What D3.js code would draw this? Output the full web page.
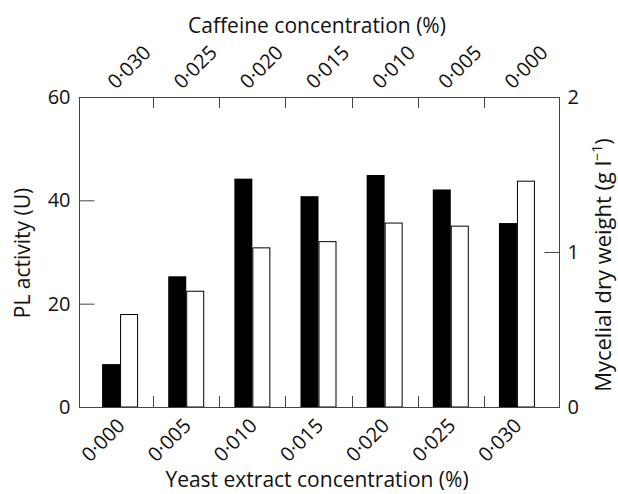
<!DOCTYPE html>
<html>
<head>
<meta charset="utf-8">
<script src="https://cdnjs.cloudflare.com/ajax/libs/d3/7.8.5/d3.min.js"></script>
<style>
body{margin:0;background:#fff;}
text{font-family:"Open Sans",sans-serif;fill:#111;}
</style>
</head>
<body>
<div id="chart"></div>
<script>
// data
var yeast = ["0·000","0·005","0·010","0·015","0·020","0·025","0·030"];
var caffeine = ["0·030","0·025","0·020","0·015","0·010","0·005","0·000"];
var plActivity = [8.3, 25.3, 44.2, 40.8, 44.9, 42.1, 35.6];
var dryWeight = [0.60, 0.75, 1.03, 1.07, 1.19, 1.17, 1.46];
var leftTicks = [0, 20, 40, 60];
var rightTicks = [0, 1, 2];

var W = 618, H = 494;
var pLeft = 79, pRight = 560, pTop = 97, pBottom = 407;

var svg = d3.select("#chart")
	.append("svg")
	.attr("width", W)
	.attr("height", H);

var x = d3.scaleBand()
	.domain(d3.range(yeast.length))
	.range([87, 550]);

var yL = d3.scaleLinear().domain([0, 60]).range([pBottom, pTop]);
var yR = d3.scaleLinear().domain([0, 2]).range([pBottom, pTop]);

var bw = 18;

// bars
svg.selectAll(".pl")
	.data(plActivity)
	.enter()
	.append("rect")
	.attr("x", function(d, i){ return x(i) + x.bandwidth()/2 - bw; })
	.attr("y", function(d){ return yL(d); })
	.attr("width", bw)
	.attr("height", function(d){ return pBottom - yL(d); })
	.attr("fill", "#000");

svg.selectAll(".dw")
	.data(dryWeight)
	.enter()
	.append("rect")
	.attr("x", function(d, i){ return x(i) + x.bandwidth()/2 + 0.5; })
	.attr("y", function(d){ return yR(d) + 0.5; })
	.attr("width", bw - 1)
	.attr("height", function(d){ return pBottom - yR(d) - 0.5; })
	.attr("fill", "#fff")
	.attr("stroke", "#000")
	.attr("stroke-width", 1);

// frame
var ax = svg.append("g").attr("stroke", "#444").attr("stroke-width", 1).attr("fill", "none");
ax.append("line").attr("x1", pLeft).attr("x2", pRight).attr("y1", pTop + 0.5).attr("y2", pTop + 0.5);
ax.append("line").attr("x1", pLeft).attr("x2", pRight).attr("y1", pBottom + 0.5).attr("y2", pBottom + 0.5);
ax.append("line").attr("x1", pLeft + 0.5).attr("x2", pLeft + 0.5).attr("y1", pTop).attr("y2", pBottom + 1);
ax.append("line").attr("x1", pRight - 0.5).attr("x2", pRight - 0.5).attr("y1", pTop).attr("y2", pBottom + 1);

// group boundary ticks on top and bottom
var bounds = d3.range(1, yeast.length);
ax.selectAll(".bt")
	.data(bounds)
	.enter()
	.append("line")
	.attr("x1", function(d){ return Math.round(x(d)) + 0.5; })
	.attr("x2", function(d){ return Math.round(x(d)) + 0.5; })
	.attr("y1", pBottom - 11)
	.attr("y2", pBottom);
ax.selectAll(".tt")
	.data(bounds)
	.enter()
	.append("line")
	.attr("x1", function(d){ return Math.round(x(d)) + 0.5; })
	.attr("x2", function(d){ return Math.round(x(d)) + 0.5; })
	.attr("y1", pTop)
	.attr("y2", pTop + 11);

// left axis
var gl = svg.append("g")
	.attr("transform", "translate(" + (pLeft + 0.5) + ",0)")
	.call(d3.axisLeft(yL).tickValues(leftTicks).tickSizeInner(-15).tickSizeOuter(0).tickPadding(9));
gl.select(".domain").remove();
gl.selectAll("line").attr("stroke", "#444");
gl.selectAll("text").attr("font-size", "20px").attr("font-family", "Open Sans").attr("fill", "#111");

// right axis
var gr = svg.append("g")
	.attr("transform", "translate(" + (pRight - 0.5) + ",0)")
	.call(d3.axisRight(yR).tickValues(rightTicks).tickFormat(d3.format("d")).tickSizeInner(-15).tickSizeOuter(0).tickPadding(8));
gr.select(".domain").remove();
gr.selectAll("line").attr("stroke", "#444");
gr.selectAll("text").attr("font-size", "20px").attr("font-family", "Open Sans").attr("fill", "#111");

// bottom labels
svg.selectAll(".bl")
	.data(yeast)
	.enter()
	.append("text")
	.attr("transform", function(d, i){
		return "translate(" + (x(i) + x.bandwidth()/2 + 6) + "," + (pBottom + 20) + ") rotate(-45)";
	})
	.attr("text-anchor", "end")
	.attr("font-size", "20px")
	.text(function(d){ return d; });

// top labels
svg.selectAll(".tl")
	.data(caffeine)
	.enter()
	.append("text")
	.attr("transform", function(d, i){
		return "translate(" + (x(i) + x.bandwidth()/2 - 4) + "," + (pTop - 7) + ") rotate(-45)";
	})
	.attr("text-anchor", "start")
	.attr("font-size", "20px")
	.text(function(d){ return d; });

// titles
svg.append("text")
	.attr("x", 317).attr("y", 33)
	.attr("text-anchor", "middle")
	.attr("font-size", "21px")
	.text("Caffeine concentration (%)");

svg.append("text")
	.attr("x", 317).attr("y", 487)
	.attr("text-anchor", "middle")
	.attr("font-size", "21px")
	.text("Yeast extract concentration (%)");

svg.append("text")
	.attr("transform", "translate(30,253) rotate(-90)")
	.attr("text-anchor", "middle")
	.attr("font-size", "21px")
	.text("PL activity (U)");

var rt = svg.append("text")
	.attr("transform", "translate(611,265) rotate(-90)")
	.attr("text-anchor", "middle")
	.attr("font-size", "22px");
rt.append("tspan").text("Mycelial dry weight (g l");
rt.append("tspan").attr("font-size", "14px").attr("dy", "-9").text("\u22121");
rt.append("tspan").attr("dy", "9").text(")");
</script>
</body>
</html>
